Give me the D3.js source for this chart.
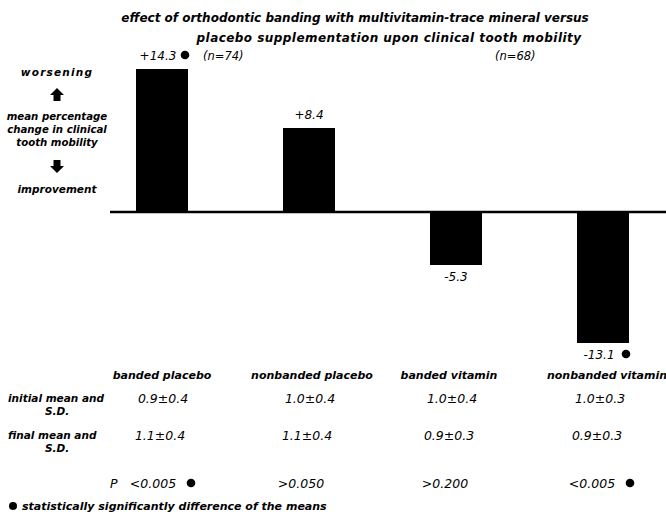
<!DOCTYPE html>
<html><head><meta charset="utf-8">
<script src="https://cdn.jsdelivr.net/npm/d3@7/dist/d3.min.js"></script>
<style>
body{margin:0;background:#fff;}
svg text{font-family:"DejaVu Sans",sans-serif;font-style:oblique;fill:#000;}
svg text.b{font-weight:bold;}
</style></head><body>
<svg id="c" width="666" height="521"></svg>
<script>
const categories = ["banded placebo", "nonbanded placebo", "banded vitamin", "nonbanded vitamin"];
const change = [14.3, 8.4, -5.3, -13.1];
const significant = [true, false, false, true];
const initialMean = ["0.9\u00b10.4", "1.0\u00b10.4", "1.0\u00b10.4", "1.0\u00b10.3"];
const finalMean = ["1.1\u00b10.4", "1.1\u00b10.4", "0.9\u00b10.3", "0.9\u00b10.3"];
const pValues = ["<0.005", ">0.050", ">0.200", "<0.005"];
const groupN = ["(n=74)", "(n=68)"];

const svg = d3.select("#c");
const x = d3.scalePoint().domain(categories).range([162, 603]);
const y = d3.scaleLinear().domain([-13.1, 14.3]).range([343, 69]);
const bw = 52;

const T = (xx, yy, t, size, bold, anchor) => svg.append("text")
  .attr("class", bold ? "b" : null).attr("x", xx).attr("y", yy)
  .attr("text-anchor", anchor || "start").attr("font-size", size).text(t);

// title
T(355, 22, "effect of orthodontic banding with multivitamin-trace mineral versus", 12, true, "middle");
T(389, 42, "placebo supplementation upon clinical tooth mobility", 12, true, "middle")
  .attr("letter-spacing", 0.45);

// bars
svg.selectAll("rect.bar").data(change).join("rect").attr("class", "bar")
  .attr("x", (d, i) => x(categories[i]) - bw / 2)
  .attr("width", bw)
  .attr("y", d => y(Math.max(0, d)))
  .attr("height", d => Math.abs(y(d) - y(0)))
  .attr("fill", "#000");

// zero line
svg.append("line").attr("x1", 110).attr("x2", 666).attr("y1", y(0)).attr("y2", y(0))
  .attr("stroke", "#000").attr("stroke-width", 2.5);

// value labels
const fmt = d => (d > 0 ? "+" : "-") + Math.abs(d).toFixed(1);
change.forEach((d, i) => {
  const cx = x(categories[i]);
  const ly = d > 0 ? y(d) - 9 : y(d) + 16;
  T(cx - (significant[i] ? 4 : 0), ly, fmt(d), 12, false, "middle");
  if (significant[i]) {
    svg.append("circle").attr("cx", cx + 23).attr("cy", ly - 5).attr("r", 4.3).attr("fill", "#000");
  }
});

// n labels
T(203, 60, groupN[0], 11.5, false);
T(495, 60, groupN[1], 11.5, false);

// left axis description
const lx = 57;
T(lx, 76, "worsening", 10.5, true, "middle").attr("letter-spacing", 1.2);
T(lx, 120, "mean percentage", 10.2, true, "middle");
T(lx, 133, "change in clinical", 10.2, true, "middle");
T(lx, 146, "tooth mobility", 10.2, true, "middle");
T(lx, 193, "improvement", 10.5, true, "middle");
function arrow(cx, cy, s) { // s=-1 up, s=+1 down
  const p = d3.path();
  p.moveTo(cx, cy + s * 7);
  p.lineTo(cx + 7, cy);
  p.lineTo(cx + 3.5, cy);
  p.lineTo(cx + 3.5, cy - s * 6);
  p.lineTo(cx - 3.5, cy - s * 6);
  p.lineTo(cx - 3.5, cy);
  p.lineTo(cx - 7, cy);
  p.closePath();
  svg.append("path").attr("d", p.toString()).attr("fill", "#000");
}
arrow(lx, 95, -1);
arrow(lx, 166, 1);

// table
const hdrX = [162, 312, 449, 607];
categories.forEach((c, i) => T(hdrX[i], 379, c, 11, true, "middle"));
T(8, 402, "initial mean and", 10.5, true);
T(45, 415, "S.D.", 10.5, true);
T(8, 439, "final mean and", 10.5, true);
T(45, 452, "S.D.", 10.5, true);
const valX = [163, 310, 452, 600];
initialMean.forEach((v, i) => T(valX[i], 403, v, 12.5, false, "middle"));
finalMean.forEach((v, i) => T(valX[i] - 3, 440, v, 12.5, false, "middle"));
T(110, 488, "P", 12.5, false);
const pX = [153, 301, 445, 592];
pValues.forEach((v, i) => {
  T(pX[i], 488, v, 12.5, false, "middle");
  if (significant[i]) svg.append("circle").attr("cx", pX[i] + 38).attr("cy", 483).attr("r", 4.3).attr("fill", "#000");
});
svg.append("circle").attr("cx", 13).attr("cy", 506).attr("r", 4).attr("fill", "#000");
T(22, 510, "statistically significantly difference of the means", 11, true);
</script>
</body></html>
